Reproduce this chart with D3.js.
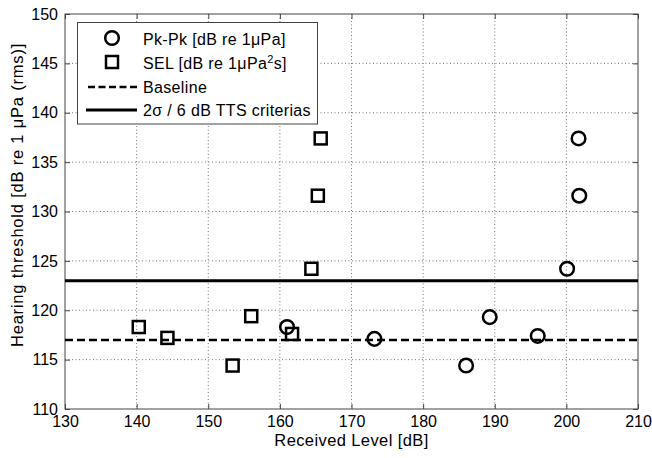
<!DOCTYPE html>
<html><head><meta charset="utf-8">
<script src="https://cdn.jsdelivr.net/npm/d3@7"></script>
<style>body{margin:0;background:#fff}svg{display:block}text{font-family:"Liberation Sans",Arial,sans-serif;fill:#000}</style>
</head><body><svg id="c" width="652" height="458"></svg>
<script>
const pkX = [161.0, 173.2, 186.0, 189.3, 196.0, 200.1, 201.8, 201.7];
const pkY = [118.3, 117.1, 114.4, 119.3, 117.4, 124.2, 131.6, 137.4];
const selX = [140.3, 144.3, 153.4, 156.0, 161.7, 164.4, 165.3, 165.7];
const selY = [118.3, 117.2, 114.4, 119.4, 117.6, 124.2, 131.6, 137.4];
const baseline = 117;
const criteria = 123;
const xTicks = [130,140,150,160,170,180,190,200,210];
const yTicks = [110,115,120,125,130,135,140,145,150];

const svg = d3.select("#c");
const L=65, R=638, T=14, B=409;
const x = d3.scaleLinear().domain([130,210]).range([L,R]);
const y = d3.scaleLinear().domain([110,150]).range([B,T]);

// grid
const g = svg.append("g");
g.selectAll(".gx").data(xTicks.slice(1,-1)).enter().append("line")
 .attr("x1",d=>x(d)).attr("x2",d=>x(d)).attr("y1",T).attr("y2",B)
 .attr("stroke","#777").attr("stroke-width",1).attr("stroke-dasharray","1,2.5");
g.selectAll(".gy").data(yTicks.slice(1,-1)).enter().append("line")
 .attr("y1",d=>y(d)).attr("y2",d=>y(d)).attr("x1",L).attr("x2",R)
 .attr("stroke","#777").attr("stroke-width",1).attr("stroke-dasharray","1,2.5");

// axes
const ax = d3.axisBottom(x).tickValues(xTicks).tickSize(-5).tickPadding(7).tickFormat(d3.format("d"));
const ay = d3.axisLeft(y).tickValues(yTicks).tickSize(-5).tickPadding(7).tickFormat(d3.format("d"));
const axT = d3.axisTop(x).tickValues(xTicks).tickSize(-5).tickFormat("");
const ayR = d3.axisRight(y).tickValues(yTicks).tickSize(-5).tickFormat("");
function style(sel){sel.select(".domain").remove();sel.selectAll("line").attr("stroke","#444");sel.selectAll("text").attr("font-size",16).attr("fill","#000").style("font-family","'Liberation Sans',Arial,sans-serif");}
svg.append("g").attr("transform",`translate(0,${B})`).call(ax).call(style);
svg.append("g").attr("transform",`translate(${L},0)`).call(ay).call(style);
svg.append("g").attr("transform",`translate(0,${T})`).call(axT).call(style);
svg.append("g").attr("transform",`translate(${R},0)`).call(ayR).call(style);
svg.append("rect").attr("x",L).attr("y",T).attr("width",R-L).attr("height",B-T)
 .attr("fill","none").attr("stroke","#444").attr("stroke-width",1);

// reference lines
svg.append("line").attr("x1",L).attr("x2",R).attr("y1",y(baseline)).attr("y2",y(baseline))
 .attr("stroke","#000").attr("stroke-width",2.5).attr("stroke-dasharray","8,4");
svg.append("line").attr("x1",L).attr("x2",R).attr("y1",y(criteria)).attr("y2",y(criteria))
 .attr("stroke","#000").attr("stroke-width",3);

// markers
const pk = pkX.map((v,i)=>({x:v,y:pkY[i]}));
const sel = selX.map((v,i)=>({x:v,y:selY[i]}));
svg.append("g").selectAll("rect").data(sel).enter().append("rect")
 .attr("x",d=>x(d.x)-6).attr("y",d=>y(d.y)-6).attr("width",12).attr("height",12)
 .attr("fill","none").attr("stroke","#000").attr("stroke-width",2.5);
svg.append("g").selectAll("circle").data(pk).enter().append("circle")
 .attr("cx",d=>x(d.x)).attr("cy",d=>y(d.y)).attr("r",6.8)
 .attr("fill","none").attr("stroke","#000").attr("stroke-width",2.5);

// legend
const lg = svg.append("g");
lg.append("rect").attr("x",77.5).attr("y",22.5).attr("width",240).attr("height",101.5)
 .attr("fill","#fff").attr("stroke","#444").attr("stroke-width",1);
lg.append("circle").attr("cx",112).attr("cy",38).attr("r",6.8).attr("fill","none").attr("stroke","#000").attr("stroke-width",2.5);
lg.append("rect").attr("x",106).attr("y",56).attr("width",12).attr("height",12).attr("fill","none").attr("stroke","#000").attr("stroke-width",2.5);
lg.append("line").attr("x1",88).attr("x2",137).attr("y1",87).attr("y2",87).attr("stroke","#000").attr("stroke-width",2.5).attr("stroke-dasharray","7,3.5");
lg.append("line").attr("x1",86).attr("x2",137).attr("y1",110).attr("y2",110).attr("stroke","#000").attr("stroke-width",3);
const tx = 143, fs = 16, ls = 0.35;
lg.append("text").attr("x",tx).attr("y",44.5).attr("font-size",fs).attr("letter-spacing",ls).text("Pk-Pk [dB re 1μPa]");
const t2 = lg.append("text").attr("x",tx).attr("y",69).attr("font-size",fs).attr("letter-spacing",ls);
t2.append("tspan").text("SEL [dB re 1μPa");
t2.append("tspan").attr("font-size",11).attr("dy",-6).text("2");
t2.append("tspan").attr("dy",6).text("s]");
lg.append("text").attr("x",tx).attr("y",92.5).attr("font-size",fs).attr("letter-spacing",ls).text("Baseline");
lg.append("text").attr("x",tx).attr("y",116).attr("font-size",fs).attr("letter-spacing",ls).text("2σ / 6 dB TTS criterias");

// axis titles
svg.append("text").attr("x",(L+R)/2).attr("y",446).attr("text-anchor","middle").attr("font-size",16.5).attr("letter-spacing",0.4).text("Received Level [dB]");
svg.append("text").attr("transform",`translate(23,195) rotate(-90)`).attr("text-anchor","middle").attr("font-size",16.5).attr("letter-spacing",0.8).text("Hearing threshold [dB re 1 μPa (rms)]");
</script></body></html>
